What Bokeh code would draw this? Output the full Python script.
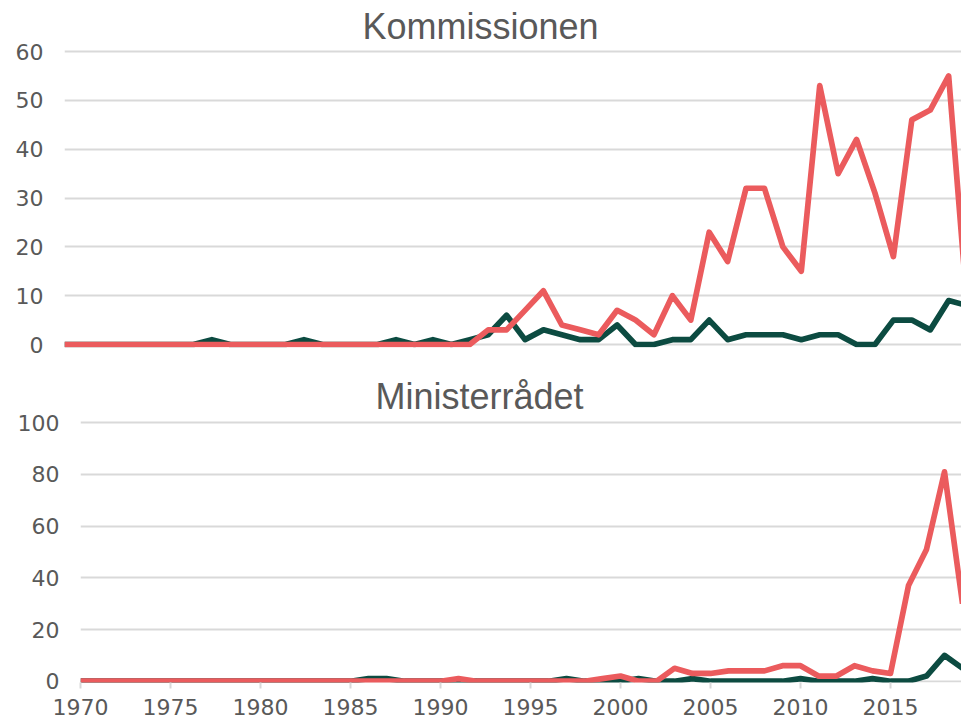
from bokeh.plotting import figure
from bokeh.layouts import column
from bokeh.models import Range1d, FixedTicker
from bokeh.embed import file_html
from bokeh.resources import INLINE

years = list(range(1970, 2020))

# Kommissionen
kom_red = [0] * 23 + [3, 3, 7, 11, 4, 3, 2, 7, 5, 2, 10, 5, 23, 17, 32, 32, 20, 15,
                      53, 35, 42, 31, 18, 46, 48, 55, 8]
kom_green = [0, 0, 0, 0, 0, 0, 0, 0, 1, 0, 0, 0, 0, 1, 0, 0, 0, 0, 1, 0, 1, 0, 1, 2, 6,
             1, 3, 2, 1, 1, 4, 0, 0, 1, 1, 5, 1, 2, 2, 2, 1, 2, 2, 0, 0, 5, 5, 3, 9, 8]

# Ministerrådet
min_red = [0] * 21 + [1, 0, 0, 0, 0, 0, 0, 0, 1, 2, 0, 0, 5, 3, 3, 4, 4, 4, 6, 6,
                      2, 2, 6, 4, 3, 37, 51, 81, 30]
min_green = [0] * 16 + [1, 1, 0, 0, 0, 0, 0, 0, 0, 0, 0, 1, 0, 0, 0, 1, 0, 0, 1, 0,
                        0, 0, 0, 0, 1, 0, 0, 0, 1, 0, 0, 2, 10, 5]

kom_ticks = [0, 10, 20, 30, 40, 50, 60]
min_ticks = [0, 20, 40, 60, 80, 100]
x_ticks = [1970, 1975, 1980, 1985, 1990, 1995, 2000, 2005, 2010, 2015]

RED = "#EB5B5D"
GREEN = "#0C4B41"
GRID = "#D9D9D9"
TXT = "#595959"


def make(title, red, green, xr, yr, yticks, height, left, top, bottom, toffset, tstand, show_x):
    p = figure(width=961, height=height, x_range=Range1d(*xr), y_range=Range1d(*yr),
               output_backend="svg", toolbar_location=None, title=title,
               min_border_left=left, min_border_right=0, min_border_top=top,
               min_border_bottom=bottom, frame_align=False)
    p.title.align = "left"
    p.title.offset = toffset
    p.title.standoff = tstand
    p.title.text_font = "Liberation Sans"
    p.title.text_font_size = "36px"
    p.title.text_font_style = "normal"
    p.title.text_color = TXT
    p.outline_line_color = None
    p.xgrid.visible = False
    p.ygrid.grid_line_color = GRID
    p.ygrid.grid_line_width = 2
    p.yaxis.ticker = FixedTicker(ticks=yticks)
    p.yaxis.axis_line_color = None
    p.yaxis.major_tick_line_color = None
    p.yaxis.major_tick_out = 0
    p.yaxis.major_tick_in = 0
    p.yaxis.minor_tick_line_color = None
    p.yaxis.major_label_standoff = 21
    p.yaxis.major_label_text_font = "DejaVu Sans"
    p.yaxis.major_label_text_font_size = "22px"
    p.yaxis.major_label_text_color = TXT
    if show_x:
        p.xaxis.ticker = FixedTicker(ticks=x_ticks)
        p.xaxis.axis_line_color = None
        p.xaxis.major_tick_line_color = GRID
        p.xaxis.major_tick_line_width = 2
        p.xaxis.major_tick_out = 6
        p.xaxis.major_tick_in = 0
        p.xaxis.minor_tick_line_color = None
        p.xaxis.major_label_standoff = 10
        p.xaxis.major_label_text_font = "DejaVu Sans"
        p.xaxis.major_label_text_font_size = "22px"
        p.xaxis.major_label_text_color = TXT
    else:
        p.xaxis.visible = False
    p.line(years, green, line_color=GREEN, line_width=5.7, line_join="round")
    p.line(years, red, line_color=RED, line_width=5.7, line_join="round")
    return p


top = make("Kommissionen", kom_red, kom_green,
           (1970, 1970 + 897 / 18.42), (-0.61, 60.41), kom_ticks,
           360, 64, 49, 13, 298, 5, False)
bot = make("Ministerrådet", min_red, min_green,
           (1970, 1970 + 881 / 18.0), (-0.50, 100.89), min_ticks,
           364, 80, 60, 42, 295, 7, True)

layout = column(top, bot, spacing=0)
open("out.html", "w").write(file_html(layout, INLINE))
